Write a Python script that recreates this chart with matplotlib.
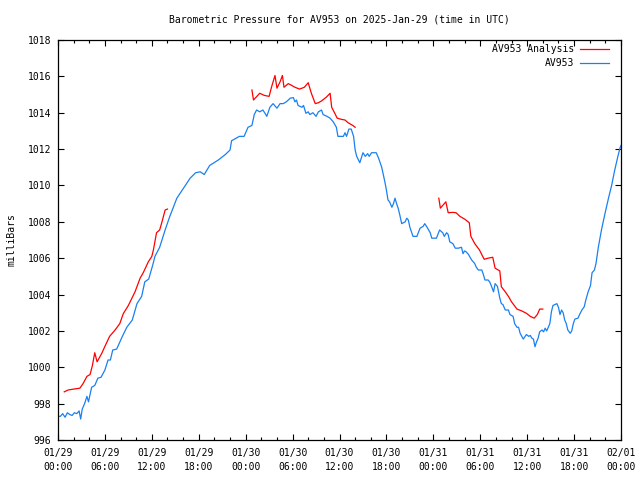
import numpy as np
import matplotlib
matplotlib.use("Agg")
import matplotlib.pyplot as plt
from matplotlib.ticker import MultipleLocator

nan = np.nan

# Hours since 2025-01-29 00:00 UTC
av953_hours = [0.0, 0.3, 0.6, 0.9, 1.2, 1.5, 1.8, 2.1, 2.4, 2.7, 2.9, 3.1, 3.4, 3.7, 3.9,
               4.3, 4.7, 5.1, 5.5, 6.0, 6.4, 6.7, 7.0, 7.5, 8.2, 8.8, 9.5, 10.1, 10.7, 11.1,
               11.6, 12.1, 12.4, 13.0, 13.7, 14.3, 15.2, 15.9, 16.9, 17.6, 18.2, 18.7, 19.4,
               20.5, 21.4, 22.0, 22.2, 23.2, 23.8, 24.3, 24.8, 25.1, 25.4, 25.8, 26.2, 26.5,
               26.7, 27.1, 27.5, 28.0, 28.4, 28.8, 29.2, 29.7, 30.1, 30.3, 30.5, 30.7, 31.2,
               31.4, 31.7, 32.0, 32.2, 32.6, 33.0, 33.3, 33.7, 33.9, 34.4, 34.8, 35.2, 35.6,
               35.8, 36.5, 36.7, 36.9, 37.2, 37.5, 37.8, 38.0, 38.2, 38.6, 39.0, 39.3, 39.6,
               39.8, 40.1, 40.7, 41.0, 41.4, 41.6, 41.8, 42.0, 42.2, 42.4, 42.7, 42.9, 43.1,
               43.3, 43.5, 43.7, 43.95, 44.4, 44.6, 44.8, 45.0, 45.4, 45.9, 46.3, 46.7, 46.9,
               47.2, 47.6, 47.8, 48.4, 48.8, 49.2, 49.4, 49.7, 49.9, 50.1, 50.5, 50.8, 51.2,
               51.6, 51.8, 52.0, 52.2, 52.5, 52.9, 53.3, 53.5, 53.75, 54.2, 54.4, 54.6, 55.0,
               55.2, 55.4, 55.7, 55.9, 56.2, 56.5, 56.7, 56.9, 57.2, 57.6, 57.8, 58.2, 58.4,
               58.7, 58.9, 59.1, 59.5, 59.9, 60.2, 60.4, 60.6, 60.8, 61.0, 61.2, 61.4, 61.6,
               61.9, 62.1, 62.3, 62.5, 62.7, 62.9, 63.1, 63.3, 63.8, 64.0, 64.2, 64.4, 64.6,
               64.8, 65.0, 65.2, 65.5, 65.7, 65.9, 66.1, 66.5, 66.7, 67.0, 67.3, 67.5, 67.8,
               68.1, 68.3, 68.6, 68.8, 69.1, 69.5, 69.95, 70.4, 70.8, 71.2, 71.6, 71.9, 72.0]
av953_mb = [997.3, 997.3, 997.45, 997.25, 997.5, 997.4, 997.35, 997.5, 997.45, 997.6, 997.15,
            997.7, 998.0, 998.4, 998.1, 998.9, 999.0, 999.4, 999.45, 999.85, 1000.4, 1000.4,
            1000.95, 1001.0, 1001.67, 1002.2, 1002.6, 1003.5, 1003.9, 1004.7, 1004.85, 1005.6,
            1006.1, 1006.6, 1007.55, 1008.3, 1009.3, 1009.75, 1010.4, 1010.7, 1010.75, 1010.6,
            1011.1, 1011.4, 1011.7, 1011.95, 1012.46, 1012.7, 1012.7, 1013.2, 1013.3, 1013.9,
            1014.15, 1014.05, 1014.15, 1013.95, 1013.8, 1014.3, 1014.5, 1014.25, 1014.5, 1014.5,
            1014.6, 1014.8, 1014.83, 1014.6, 1014.7, 1014.4, 1014.3, 1014.4, 1013.97, 1014.05,
            1013.9, 1014.0, 1013.8, 1014.05, 1014.15, 1013.9, 1013.8, 1013.7, 1013.5, 1013.2,
            1012.7, 1012.7, 1012.9, 1012.7, 1013.1, 1013.1, 1012.7, 1011.95, 1011.6, 1011.25,
            1011.8, 1011.6, 1011.75, 1011.6, 1011.8, 1011.8, 1011.5, 1011.0, 1010.6, 1010.2,
            1009.75, 1009.2, 1009.1, 1008.8, 1009.0, 1009.3, 1009.0, 1008.75, 1008.4, 1007.9,
            1008.0, 1008.2, 1008.1, 1007.7, 1007.2, 1007.2, 1007.65, 1007.75, 1007.9, 1007.7,
            1007.4, 1007.1, 1007.1, 1007.55, 1007.4, 1007.2, 1007.4, 1007.3, 1006.9, 1006.8,
            1006.55, 1006.55, 1006.6, 1006.25, 1006.4, 1006.35, 1006.2, 1005.9, 1005.7, 1005.5,
            1005.35, 1005.35, 1005.1, 1004.8, 1004.8, 1004.7, 1004.5, 1004.15, 1004.6, 1004.45,
            1003.8, 1003.5, 1003.45, 1003.15, 1003.15, 1002.9, 1002.8, 1002.4, 1002.2, 1002.2,
            1001.87, 1001.55, 1001.8, 1001.7, 1001.75, 1001.6, 1001.55, 1001.13, 1001.4, 1001.6,
            1001.95, 1002.05, 1001.95, 1002.15, 1002.0, 1002.2, 1002.4, 1003.05, 1003.4, 1003.5,
            1003.3, 1002.9, 1003.15, 1003.0, 1002.6, 1002.4, 1002.05, 1001.87, 1002.0, 1002.4,
            1002.65, 1002.7, 1002.9, 1003.15, 1003.33, 1003.7, 1004.15, 1004.5, 1005.2, 1005.35,
            1005.7, 1006.6, 1007.55, 1008.45, 1009.3, 1010.0, 1010.85, 1011.6, 1012.1, 1012.2]

# Analysis series (NaN separates the three runs)
analysis_hours = [0.8, 1.3, 2.0, 2.8, 3.2, 3.7, 4.1, 4.4, 4.7, 5.0, 5.6, 6.0, 6.6, 7.3, 7.9,
                  8.35, 9.0, 9.85, 10.5, 10.9, 11.55, 12.0, 12.2, 12.6, 13.0, 13.3, 13.7, 14.0,
                  nan,
                  24.8, 25.0, 25.8, 26.4, 27.0, 27.3, 27.75, 28.0, 28.4, 28.7, 28.9, 29.45, 29.9,
                  30.3, 30.9, 31.5, 32.0, 32.4, 32.9, 33.3, 33.7, 34.3, 34.8, 35.0, 35.4, 35.7,
                  36.3, 36.7, 37.1, 37.7, 38.0,
                  nan,
                  48.7, 48.9, 49.3, 49.6, 49.9, 50.5, 50.9, 51.4, 52.0, 52.6, 52.8, 53.3, 53.9,
                  54.5, 55.0, 55.6, 55.9, 56.5, 56.7, 57.2, 57.6, 58.0, 58.7, 59.3, 59.9, 60.4,
                  60.9, 61.3, 61.6, 62.0]
analysis_mb = [998.65, 998.75, 998.8, 998.85, 999.1, 999.5, 999.6, 1000.1, 1000.8, 1000.3,
               1000.77, 1001.15, 1001.7, 1002.05, 1002.4, 1002.95, 1003.4, 1004.15, 1004.9,
               1005.2, 1005.8, 1006.1, 1006.45, 1007.4, 1007.55, 1008.0, 1008.65, 1008.7,
               nan,
               1015.25, 1014.7, 1015.07, 1014.95, 1014.9, 1015.4, 1016.05, 1015.35, 1015.7,
               1016.05, 1015.4, 1015.6, 1015.5, 1015.4, 1015.3, 1015.4, 1015.65, 1015.07,
               1014.5, 1014.55, 1014.65, 1014.85, 1015.07, 1014.3, 1013.97, 1013.7, 1013.63,
               1013.6, 1013.45, 1013.3, 1013.2,
               nan,
               1009.3, 1008.75, 1008.95, 1009.1, 1008.5, 1008.52, 1008.5, 1008.3, 1008.15,
               1007.95, 1007.2, 1006.8, 1006.45, 1005.94, 1006.0, 1006.05, 1005.45, 1005.3,
               1004.43, 1004.15, 1003.9, 1003.6, 1003.2, 1003.1, 1002.97, 1002.8, 1002.7,
               1002.9, 1003.2, 1003.2]

x_tick_hours = [0, 6, 12, 18, 24, 30, 36, 42, 48, 54, 60, 66, 72]
x_tick_labels = ["01/29\n00:00", "01/29\n06:00", "01/29\n12:00", "01/29\n18:00",
                 "01/30\n00:00", "01/30\n06:00", "01/30\n12:00", "01/30\n18:00",
                 "01/31\n00:00", "01/31\n06:00", "01/31\n12:00", "01/31\n18:00",
                 "02/01\n00:00"]
y_ticks = [996, 998, 1000, 1002, 1004, 1006, 1008, 1010, 1012, 1014, 1016, 1018]

plt.rcParams['font.family'] = ['DejaVu Sans Mono']
fs = 7

fig = plt.figure(figsize=(6.4, 4.8), dpi=100)
ax = fig.add_axes([58/640, 1 - 440/480, (621 - 58)/640, 400/480])

ax.plot(analysis_hours, analysis_mb, color='#ff0000', lw=0.9, label='AV953 Analysis')
ax.plot(av953_hours, av953_mb, color='#1a80f0', lw=0.9, label='AV953')

ax.set_xlim(0, 72)
ax.set_ylim(996, 1018)
ax.set_xticks(x_tick_hours)
ax.set_xticklabels(x_tick_labels, fontsize=fs)
for lbl in ax.get_xticklabels():
    lbl.set_linespacing(1.5)
ax.xaxis.set_minor_locator(MultipleLocator(2))
ax.set_yticks(y_ticks)
ax.set_yticklabels([str(v) for v in y_ticks], fontsize=fs)

ax.tick_params(axis='both', which='both', direction='in', top=True, right=True,
               color='black', width=0.8)
ax.tick_params(axis='both', which='major', length=4.5)
ax.tick_params(axis='x', which='minor', length=2.5)
ax.tick_params(axis='x', which='major', pad=6)
ax.tick_params(axis='y', which='major', pad=5)
for s in ax.spines.values():
    s.set_linewidth(0.9)
    s.set_color('black')

ax.set_title('Barometric Pressure for AV953 on 2025-Jan-29 (time in UTC)', fontsize=fs, pad=12.5)
ax.set_ylabel('milliBars', fontsize=fs, labelpad=8)

ax.legend(loc='upper right', markerfirst=False, frameon=False, fontsize=fs,
          handlelength=2.9, handletextpad=0.6, labelspacing=0.4,
          borderaxespad=0.3, bbox_to_anchor=(0.99, 1.006))

fig.savefig('out.png', dpi=100)
